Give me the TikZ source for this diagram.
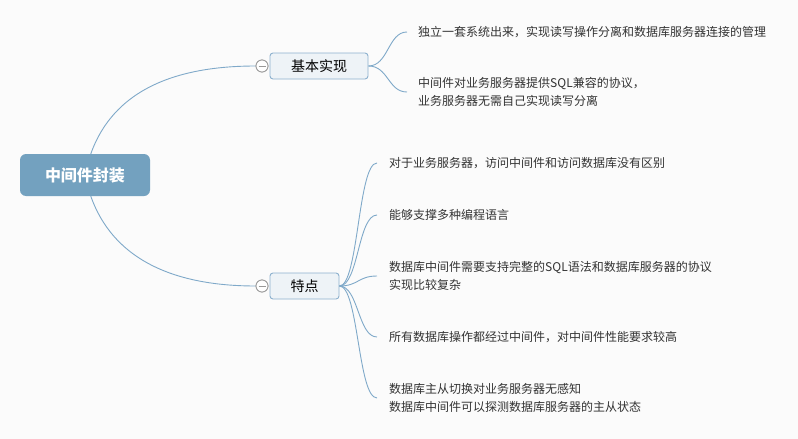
\documentclass[tikz,border=0pt]{standalone}
\usepackage{fontspec}
\setmainfont{Noto Sans CJK SC}
\usetikzlibrary{calc}
\definecolor{linec}{HTML}{7FA9C9}
\definecolor{rootc}{HTML}{73A1BF}
\definecolor{boxfill}{HTML}{EEF3F7}
\definecolor{boxdraw}{HTML}{8DB1CE}
\definecolor{txt}{HTML}{333333}
\definecolor{bg}{HTML}{FBFBFB}
\begin{document}
\begin{tikzpicture}[x=1pt,y=-1pt,
  conn/.style={draw=linec,line width=0.9pt},
  rootbox/.style={fill=rootc,rounded corners=6pt,minimum width=130pt,minimum height=42pt,inner sep=0pt,text=white,font=\fontsize{16}{18}\selectfont\bfseries},
  topicbox/.style={fill=boxfill,draw=boxdraw,line width=0.9pt,rounded corners=3pt,minimum height=26pt,inner sep=0pt,text=black,font=\fontsize{14}{16}\selectfont},
  leaf/.style={anchor=west,inner sep=0pt,align=left,text=txt,font=\fontsize{12}{18}\selectfont},
  toggle/.style={circle,draw=gray!80,fill=white,line width=0.8pt,minimum size=12pt,inner sep=0pt}
]
\fill[bg] (0,0) rectangle (798,439);
\useasboundingbox (0,0) rectangle (798,439);

% nodes
\coordinate (rc) at (85,175);
\node[topicbox,minimum width=98pt] (b1) at (319,66) {基本实现};
\node[topicbox,minimum width=69pt] (b2) at (304.5,286) {特点};
\node[toggle] (t1) at (262,66) {};
\node[toggle] (t2) at (262,286) {};

% root curves
\draw[conn] (rc) .. controls (100,100) and (160,66) .. (t1.west);
\draw[conn] (rc) .. controls (100,250) and (160,286) .. (t2.west);
\node[rootbox] (root) at (85,175) {中间件封装};
\node[toggle] at (262,66) {};
\node[toggle] at (262,286) {};
\draw[gray!80,line width=0.8pt] ([xshift=-3.5pt]t1.center) -- ([xshift=3.5pt]t1.center);
\draw[gray!80,line width=0.8pt] ([xshift=-3.5pt]t2.center) -- ([xshift=3.5pt]t2.center);

% leaves of b1
\node[leaf] (a1) at (418,32) {独立一套系统出来，实现读写操作分离和数据库服务器连接的管理};
\node[leaf] (a2) at (418,92) {中间件对业务服务器提供SQL兼容的协议，\\业务服务器无需自己实现读写分离};

% leaves of b2
\node[leaf] (c1) at (389,163) {对于业务服务器，访问中间件和访问数据库没有区别};
\node[leaf] (c2) at (389,215) {能够支撑多种编程语言};
\node[leaf] (c3) at (389,276) {数据库中间件需要支持完整的SQL语法和数据库服务器的协议\\实现比较复杂};
\node[leaf] (c4) at (389,337) {所有数据库操作都经过中间件，对中间件性能要求较高};
\node[leaf] (c5) at (389,398) {数据库主从切换对业务服务器无感知\\数据库中间件可以探测数据库服务器的主从状态};

% connectors b1
\foreach \n in {a1,a2}{
  \draw[conn] (b1.east) .. controls ($(b1.east)+(20,0)$) and ($([xshift=-11pt]\n.west)+(-19,0)$) .. ([xshift=-11pt]\n.west);
}
\foreach \n in {c1,c2,c3,c4,c5}{
  \draw[conn] (b2.east) .. controls ($(b2.east)+(19,0)$) and ($([xshift=-12pt]\n.west)+(-19,0)$) .. ([xshift=-12pt]\n.west);
}
\end{tikzpicture}
\end{document}
